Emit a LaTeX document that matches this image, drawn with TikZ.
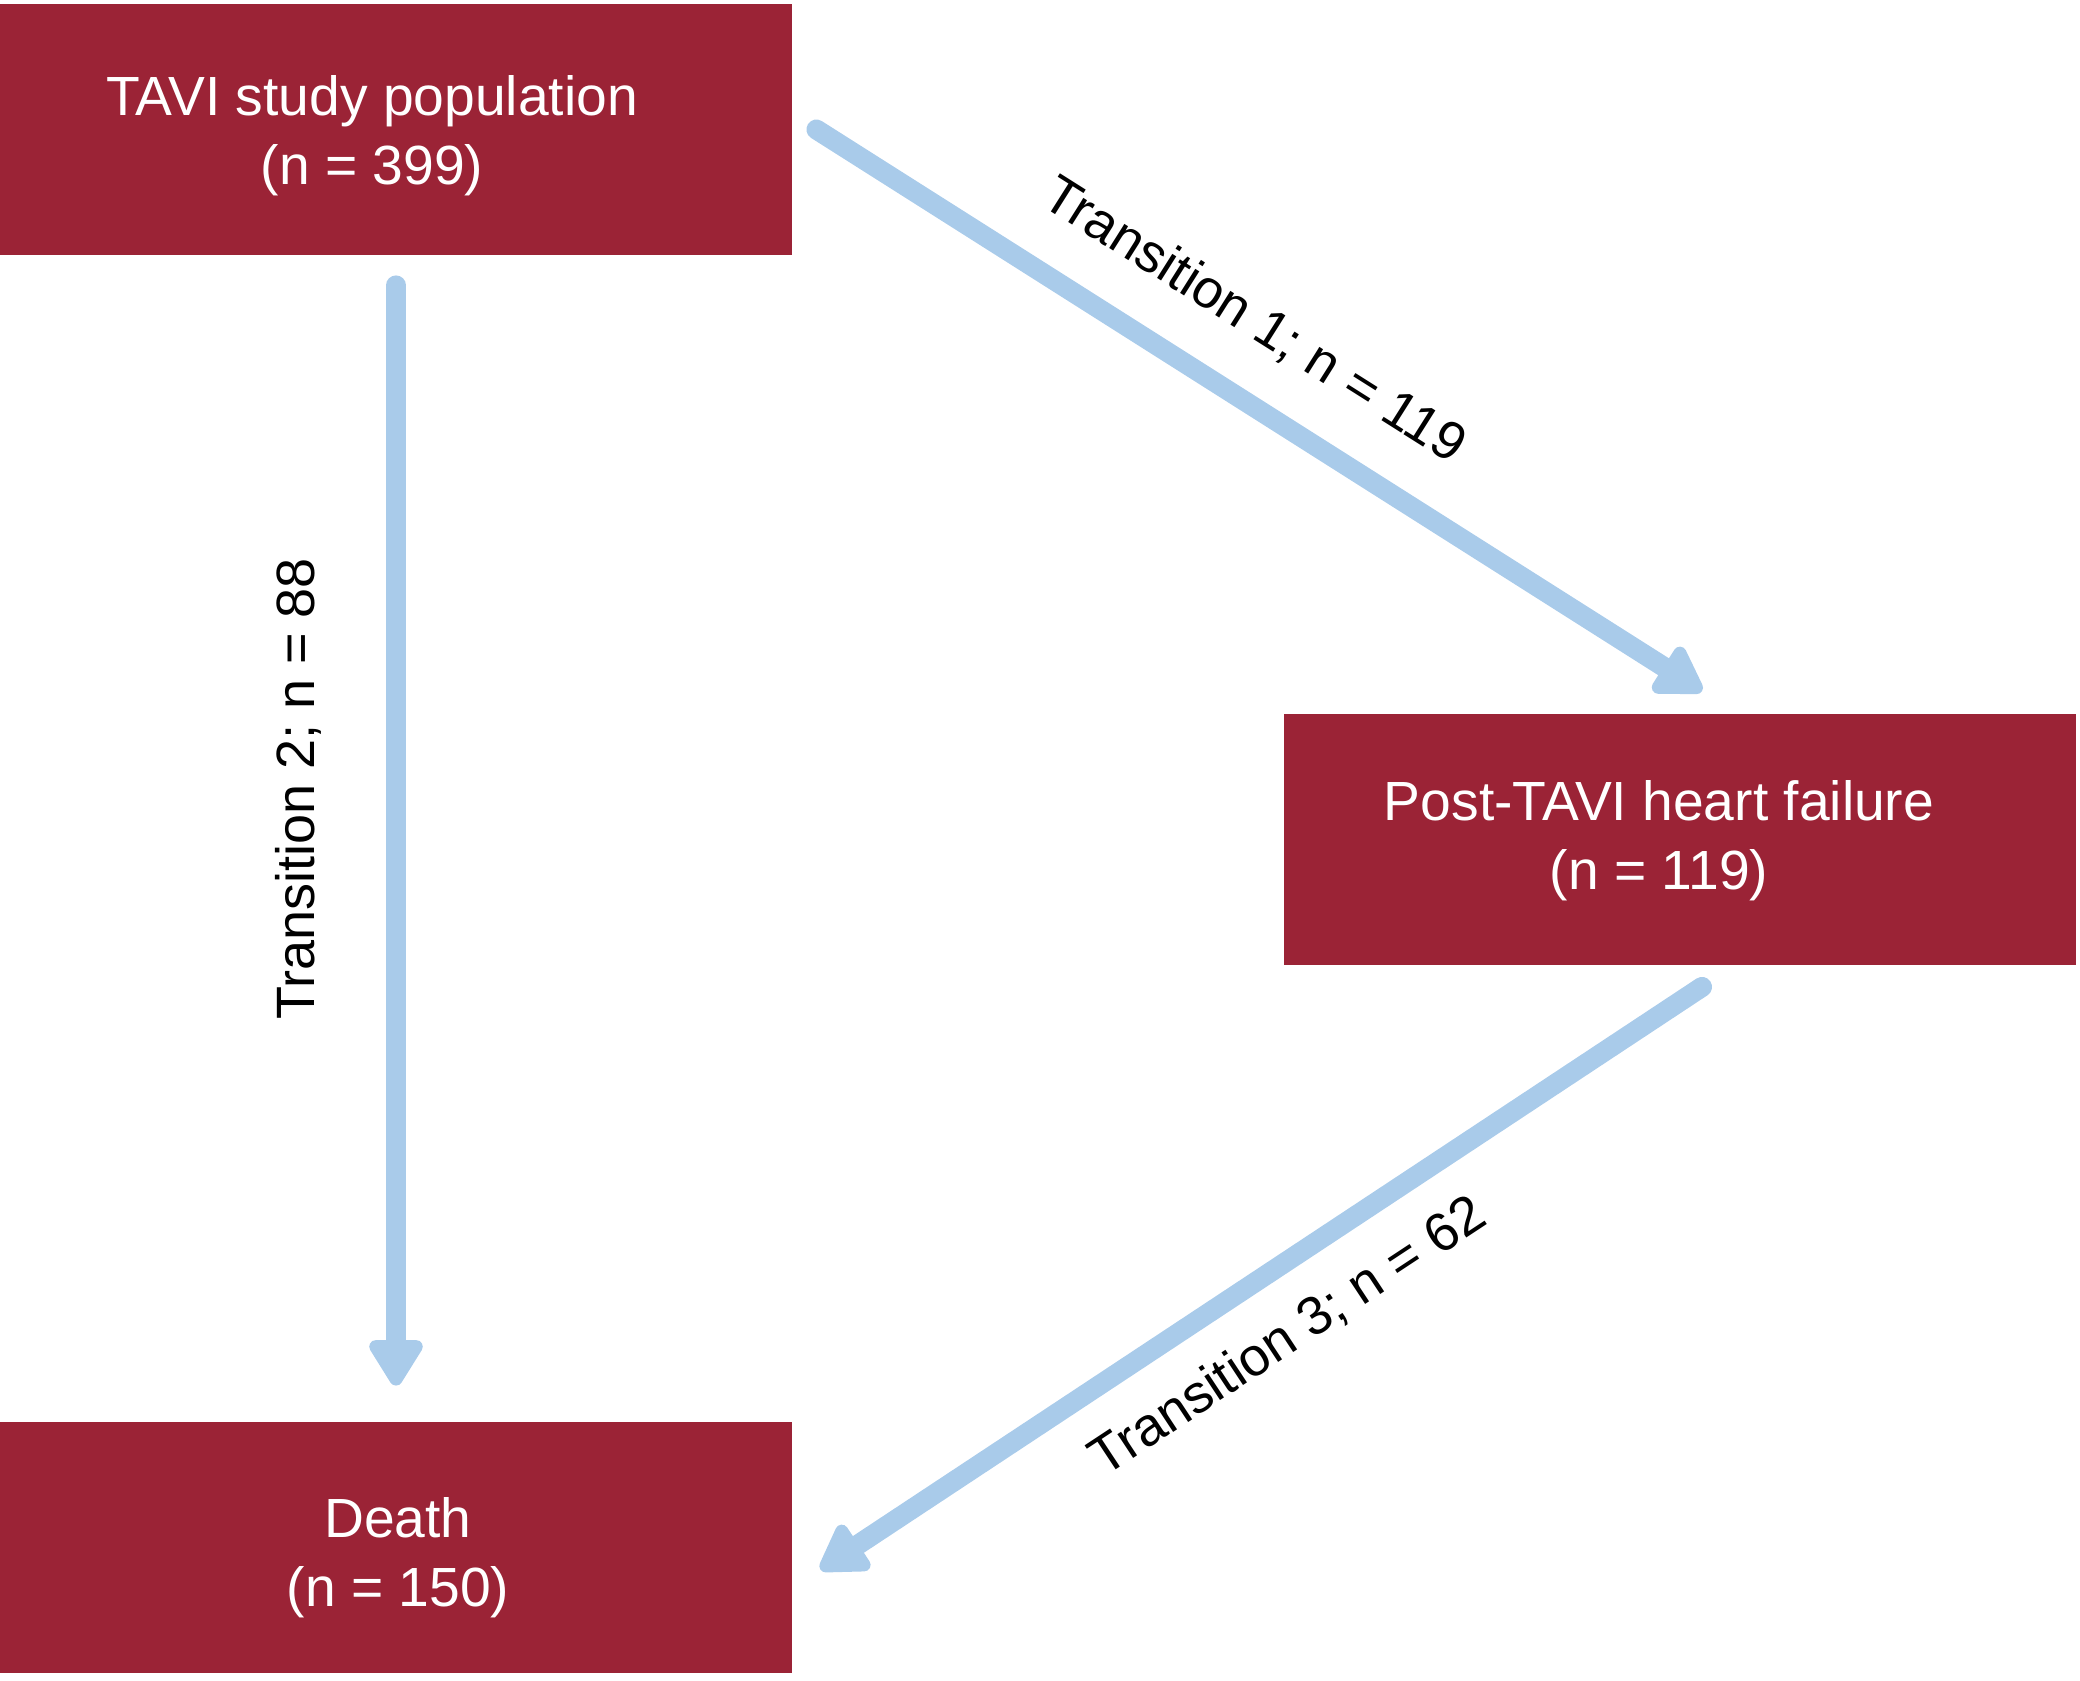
\documentclass[tikz,border=0pt]{standalone}
\usepackage{fontspec}
\setmainfont{Liberation Sans}
\usetikzlibrary{arrows.meta,calc}
\definecolor{boxred}{HTML}{9B2336}
\definecolor{arrowblue}{HTML}{A9CBEA}
\begin{document}
\begin{tikzpicture}[x=0.5pt,y=-0.5pt,
 box/.style={rectangle, fill=boxred, minimum width=396pt, minimum height=125.5pt, inner sep=0pt},
 boxtext/.style={text=white, inner sep=0pt, font=\fontsize{27.6}{34.5}\selectfont, align=center},
 flow/.style={draw=arrowblue, line width=10pt, line cap=round, -{Triangle[length=26pt,width=30pt,round]}},
 lbl/.style={font=\fontsize{27}{32}\selectfont, inner sep=0pt}]
\useasboundingbox (0,0) rectangle (2080,1680);
\node[box, label={[boxtext, xshift=-12pt, yshift=-3pt]center:{TAVI study population\\(n = 399)}}] (pop) at (396,129.5) {};
\node[box, label={[boxtext, xshift=-10.5pt, yshift=-1pt]center:{Post-TAVI heart failure\\(n = 119)}}] (hf) at (1680,839) {};
\node[box, label={[boxtext, xshift=1pt, yshift=-5pt]center:{Death\\(n = 150)}}] (death) at (396,1547.5) {};
\draw[flow] ([xshift=12pt]pop.east) -- ([xshift=11pt,yshift=11pt]hf.north);
\draw[flow] ([yshift=-15pt]pop.south) -- ([yshift=18pt]death.north);
\draw[flow] ([xshift=11pt,yshift=-11pt]hf.south) -- ([xshift=14pt,yshift=-11pt]death.east);
\node[lbl, rotate=-32.3] (t1) at (1254,321) {Transition 1; n = 119};
\node[lbl, rotate=90] (t2) at (298,789) {Transition 2; n = 88};
\node[lbl, rotate=33.4] (t3) at (1288,1337) {Transition 3; n = 62};
\end{tikzpicture}
\end{document}
